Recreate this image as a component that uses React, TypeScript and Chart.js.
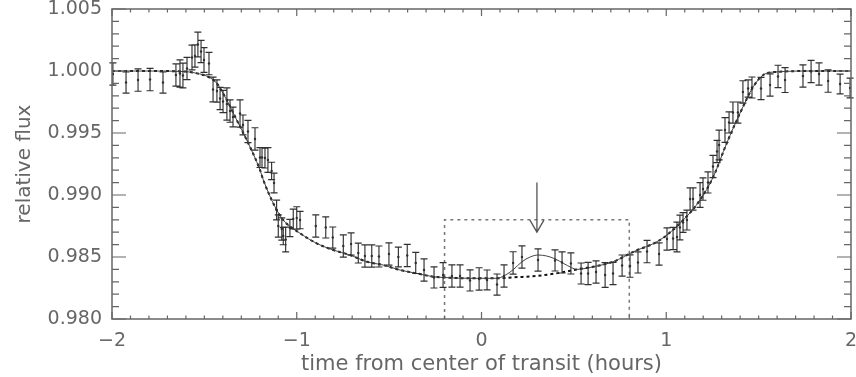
import React, { useEffect, useRef } from 'react';
import { Chart, registerables } from 'chart.js';

Chart.register(...registerables);

// Observed photometry: time from mid-transit (hours), relative flux, 1-sigma error
const obsTime = [
  -1.995, -1.924, -1.859, -1.794, -1.724, -1.654, -1.632, -1.616, -1.594, -1.567,
  -1.551, -1.535, -1.518, -1.502, -1.475, -1.453, -1.432, -1.415, -1.399, -1.378,
  -1.361, -1.345, -1.307, -1.291, -1.264, -1.226, -1.199, -1.188, -1.172, -1.156,
  -1.136, -1.123, -1.109, -1.100, -1.081, -1.073, -1.060, -1.037, -1.019, -1.000,
  -0.982, -0.897, -0.843, -0.805, -0.748, -0.706, -0.667, -0.631, -0.594, -0.555,
  -0.501, -0.450, -0.402, -0.356, -0.311, -0.257, -0.208, -0.160, -0.116, -0.062,
  -0.013, 0.030, 0.084, 0.122, 0.171, 0.219, 0.306, 0.398, 0.436, 0.484,
  0.539, 0.577, 0.620, 0.669, 0.712, 0.761, 0.804, 0.847, 0.896, 0.961,
  1.004, 1.037, 1.058, 1.074, 1.091, 1.112, 1.129, 1.145, 1.183, 1.199,
  1.226, 1.253, 1.275, 1.286, 1.318, 1.340, 1.361, 1.388, 1.415, 1.443,
  1.464, 1.513, 1.562, 1.605, 1.643, 1.740, 1.784, 1.827, 1.876, 1.941,
  1.995,
];
const obsFlux = [
  0.99976, 0.99907, 0.99927, 0.99931, 0.99907, 0.99968, 0.9998, 0.99964, 1.0002, 1.00109,
  1.00121, 1.00214, 1.00157, 1.00089, 1.0006, 0.99851, 0.99839, 0.99778, 0.99754, 0.99734,
  0.99677, 0.99629, 0.99657, 0.99565, 0.99512, 0.99452, 0.99302, 0.99302, 0.99298, 0.99282,
  0.99194, 0.99097, 0.98879, 0.9875, 0.98726, 0.98669, 0.98641, 0.98734, 0.98806, 0.98815,
  0.98798, 0.9875, 0.98738, 0.98657, 0.98589, 0.98605, 0.98532, 0.98508, 0.98508, 0.98504,
  0.98524, 0.985, 0.98512, 0.98452, 0.98395, 0.98335, 0.98355, 0.98347, 0.98347, 0.98311,
  0.98323, 0.98315, 0.98278, 0.98347, 0.98452, 0.985, 0.98476, 0.98472, 0.98456, 0.98448,
  0.98367, 0.98367, 0.98379, 0.98355, 0.98367, 0.98431, 0.98427, 0.98456, 0.98544, 0.98524,
  0.98645, 0.98649, 0.98661, 0.98738, 0.98778, 0.98798, 0.98968, 0.98968, 0.99, 0.99048,
  0.99101, 0.9923, 0.99351, 0.99403, 0.99524, 0.99585, 0.99665, 0.99665, 0.99831, 0.99859,
  0.99867, 0.99859, 0.99887, 0.99956, 0.99927, 0.9996, 0.99996, 0.99976, 0.99919, 0.99895,
  0.99863,
];
const obsErr = [
  0.0009, 0.00085, 0.0009, 0.0009, 0.00085, 0.0009, 0.0011, 0.001, 0.0009, 0.001,
  0.0009, 0.001, 0.0009, 0.001, 0.0009, 0.001, 0.0009, 0.0009, 0.0009, 0.0013,
  0.0009, 0.0008, 0.0011, 0.0008, 0.0009, 0.0009, 0.0008, 0.0008, 0.0008, 0.001,
  0.0007, 0.0008, 0.0008, 0.0009, 0.0009, 0.0007, 0.001, 0.0007, 0.0008, 0.0009,
  0.0007, 0.0009, 0.00085, 0.00085, 0.0009, 0.0009, 0.0008, 0.0009, 0.0009, 0.00085,
  0.0009, 0.0008, 0.0009, 0.00085, 0.0009, 0.00085, 0.001, 0.0009, 0.0009, 0.00085,
  0.0009, 0.0008, 0.00085, 0.0009, 0.0009, 0.0009, 0.0009, 0.00085, 0.00085, 0.00085,
  0.00085, 0.0009, 0.0009, 0.001, 0.0009, 0.00085, 0.0009, 0.00085, 0.0009, 0.0009,
  0.0009, 0.0009, 0.0012, 0.001, 0.0008, 0.0008, 0.0009, 0.0009, 0.001, 0.0009,
  0.00085, 0.0009, 0.0009, 0.0012, 0.001, 0.00085, 0.00085, 0.00085, 0.0009, 0.0007,
  0.00085, 0.0009, 0.0009, 0.0009, 0.001, 0.0009, 0.0009, 0.0009, 0.0009, 0.0008,
  0.0008,
];

// Transit model without the occulted spot (dotted curve)
const modelTime = [
  -2.0, -1.8, -1.6, -1.54, -1.48, -1.433, -1.379, -1.325, -1.271, -1.199,
  -1.181, -1.118, -1.073, -0.982, -0.892, -0.802, -0.712, -0.621, -0.532, -0.441,
  -0.351, -0.261, -0.207, -0.062, 0.082, 0.172, 0.299, 0.425, 0.515, 0.624,
  0.713, 0.822, 0.966, 1.092, 1.183, 1.255, 1.327, 1.399, 1.471, 1.525,
  1.589, 1.8, 2.0,
];
const modelFlux = [
  1.0, 1.0, 0.99995, 0.99981, 0.99954, 0.99901, 0.99766, 0.99605, 0.99444, 0.99202,
  0.99121, 0.98906, 0.98798, 0.98691, 0.9861, 0.98556, 0.98516, 0.98462, 0.98435, 0.98395,
  0.98368, 0.98341, 0.98335, 0.98328, 0.98328, 0.98336, 0.98347, 0.98373, 0.984, 0.98427,
  0.98462, 0.98542, 0.98637, 0.98798, 0.9896, 0.99148, 0.99417, 0.99659, 0.99873, 0.99968,
  0.99992, 1.0, 1.0,
];

// Spot-crossing bump that replaces the model between these times (solid curve)
const spotTime = [0.082, 0.127, 0.172, 0.219, 0.263, 0.307, 0.353, 0.398, 0.443, 0.488, 0.515];
const spotFlux = [0.98328, 0.98352, 0.98398, 0.98462, 0.985, 0.98516, 0.98508, 0.98485, 0.98449, 0.98414, 0.984];

const xTicks = [-2, -1, 0, 1, 2];
const yTicks = [0.98, 0.985, 0.99, 0.995, 1.0, 1.005];

// Highlighted window and arrow marking the spot feature
const boxTime = [-0.2, 0.8];
const boxFlux = [0.98, 0.988];
const arrowTime = 0.3;
const arrowFlux = [0.991, 0.987];

const AXIS = '#666666';
const INK = '#303030';
const FONT = '"DejaVu Sans", sans-serif';

const pairs = (xs: number[], ys: number[]) => xs.map((x, i) => ({ x, y: ys[i] }));

const frameTicks = {
  id: 'frameTicks',
  afterDraw(chart: any) {
    const { ctx, chartArea: a, scales } = chart;
    const xs = scales.x;
    const ys = scales.y;
    ctx.save();
    ctx.strokeStyle = AXIS;
    ctx.lineWidth = 1.5;
    ctx.strokeRect(a.left, a.top, a.right - a.left, a.bottom - a.top);
    ctx.lineWidth = 1.2;
    ctx.beginPath();
    for (let i = -20; i <= 20; i++) {
      const px = xs.getPixelForValue(i / 10);
      const len = i % 10 === 0 ? 7 : 3.5;
      ctx.moveTo(px, a.bottom);
      ctx.lineTo(px, a.bottom - len);
      ctx.moveTo(px, a.top);
      ctx.lineTo(px, a.top + len);
    }
    for (let i = 980; i <= 1005; i++) {
      const py = ys.getPixelForValue(i / 1000);
      const len = i % 5 === 0 ? 14 : 7;
      ctx.moveTo(a.left, py);
      ctx.lineTo(a.left + len, py);
      ctx.moveTo(a.right, py);
      ctx.lineTo(a.right - len, py);
    }
    ctx.stroke();
    ctx.restore();
  },
};

const windowAndArrow = {
  id: 'windowAndArrow',
  beforeDatasetsDraw(chart: any) {
    const { ctx, scales } = chart;
    const xs = scales.x;
    const ys = scales.y;
    ctx.save();
    ctx.strokeStyle = '#777777';
    ctx.lineWidth = 1.5;
    ctx.setLineDash([3, 4]);
    const x0 = xs.getPixelForValue(boxTime[0]);
    const x1 = xs.getPixelForValue(boxTime[1]);
    const yb = ys.getPixelForValue(boxFlux[0]);
    const yt = ys.getPixelForValue(boxFlux[1]);
    ctx.beginPath();
    ctx.moveTo(x0, yb);
    ctx.lineTo(x0, yt);
    ctx.lineTo(x1, yt);
    ctx.lineTo(x1, yb);
    ctx.stroke();
    ctx.setLineDash([]);
    ctx.strokeStyle = '#555555';
    ctx.lineWidth = 1.3;
    const ax = xs.getPixelForValue(arrowTime);
    const ay0 = ys.getPixelForValue(arrowFlux[0]);
    const ay1 = ys.getPixelForValue(arrowFlux[1]);
    ctx.beginPath();
    ctx.moveTo(ax, ay0);
    ctx.lineTo(ax, ay1);
    ctx.moveTo(ax - 7, ay1 - 12);
    ctx.lineTo(ax, ay1);
    ctx.lineTo(ax + 7, ay1 - 12);
    ctx.stroke();
    ctx.restore();
  },
};

const errorBars = {
  id: 'errorBars',
  afterDatasetsDraw(chart: any) {
    const { ctx, scales } = chart;
    const xs = scales.x;
    const ys = scales.y;
    ctx.save();
    ctx.strokeStyle = INK;
    ctx.lineWidth = 1.15;
    ctx.beginPath();
    obsTime.forEach((t, i) => {
      const px = xs.getPixelForValue(t);
      const top = ys.getPixelForValue(obsFlux[i] + obsErr[i]);
      const bot = ys.getPixelForValue(obsFlux[i] - obsErr[i]);
      ctx.moveTo(px, top);
      ctx.lineTo(px, bot);
      ctx.moveTo(px - 3.5, top);
      ctx.lineTo(px + 3.5, top);
      ctx.moveTo(px - 3.5, bot);
      ctx.lineTo(px + 3.5, bot);
    });
    ctx.stroke();
    ctx.restore();
  },
};

export default function App() {
  const canvasRef = useRef<HTMLCanvasElement | null>(null);

  useEffect(() => {
    const canvas = canvasRef.current;
    if (!canvas) return;

    const spotStart = spotTime[0];
    const spotEnd = spotTime[spotTime.length - 1];
    const spottedCurve = [
      ...pairs(modelTime, modelFlux).filter((p) => p.x < spotStart),
      ...pairs(spotTime, spotFlux),
      ...pairs(modelTime, modelFlux).filter((p) => p.x > spotEnd),
    ];

    const chart = new Chart(canvas, {
      type: 'scatter',
      data: {
        datasets: [
          {
            label: 'data',
            data: pairs(obsTime, obsFlux),
            showLine: false,
            pointRadius: 1.2,
            pointBackgroundColor: INK,
            pointBorderWidth: 0,
          },
          {
            label: 'model with spot',
            data: spottedCurve,
            showLine: true,
            borderColor: '#444444',
            borderWidth: 1,
            pointRadius: 0,
            cubicInterpolationMode: 'monotone',
          },
          {
            label: 'model',
            data: pairs(modelTime, modelFlux),
            showLine: true,
            borderColor: '#111111',
            borderWidth: 2,
            borderDash: [3, 3],
            pointRadius: 0,
            cubicInterpolationMode: 'monotone',
          },
        ],
      },
      options: {
        animation: false,
        responsive: true,
        maintainAspectRatio: false,
        events: [],
        layout: { padding: { top: 9, right: 5, left: 0, bottom: 0 } },
        plugins: { legend: { display: false }, tooltip: { enabled: false } },
        scales: {
          x: {
            type: 'linear',
            min: -2,
            max: 2,
            grid: { display: false, drawTicks: false },
            border: { display: false },
            afterBuildTicks: (scale: any) => {
              scale.ticks = xTicks.map((v) => ({ value: v }));
            },
            afterFit: (scale: any) => {
              scale.height = 58;
              scale.paddingLeft = 0;
              scale.paddingRight = 0;
            },
            ticks: {
              color: AXIS,
              padding: 13,
              maxRotation: 0,
              font: { family: FONT, size: 19, lineHeight: 1 },
              callback: (v: any) => String(v).replace('-', '\u2212'),
            },
            title: {
              display: true,
              text: 'time from center of transit (hours)',
              color: AXIS,
              font: { family: FONT, size: 21, lineHeight: 1 },
              padding: { top: 0, bottom: 2 },
            },
          },
          y: {
            type: 'linear',
            min: 0.98,
            max: 1.005,
            grid: { display: false, drawTicks: false },
            border: { display: false },
            afterBuildTicks: (scale: any) => {
              scale.ticks = yTicks.map((v) => ({ value: v }));
            },
            afterFit: (scale: any) => {
              scale.width = 112;
              scale.paddingTop = 0;
              scale.paddingBottom = 0;
            },
            ticks: {
              color: AXIS,
              padding: 10,
              font: { family: FONT, size: 19, lineHeight: 1 },
              callback: (v: any) => Number(v).toFixed(3),
            },
            title: {
              display: true,
              text: 'relative flux',
              color: AXIS,
              font: { family: FONT, size: 20, lineHeight: 1 },
              padding: { top: 15, bottom: 0 },
            },
          },
        },
      },
      plugins: [windowAndArrow, errorBars, frameTicks],
    });

    return () => chart.destroy();
  }, []);

  return (
    <div style={{ position: 'fixed', left: 0, top: 0, width: 856, height: 377, background: '#ffffff' }}>
      <canvas ref={canvasRef} />
    </div>
  );
}
